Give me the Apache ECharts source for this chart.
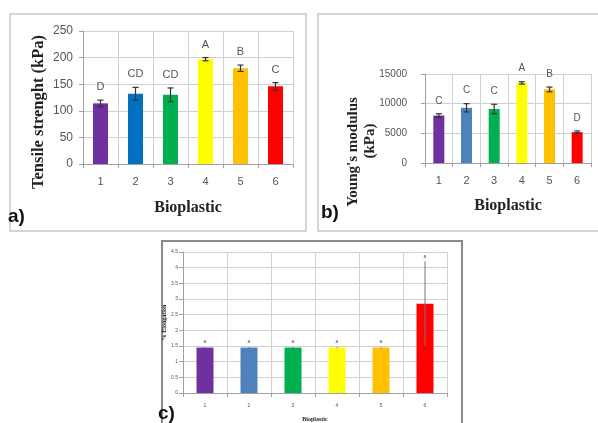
<!DOCTYPE html>
<html><head><meta charset="utf-8">
<script src="https://cdn.jsdelivr.net/npm/echarts@6/dist/echarts.min.js"></script>
<style>html,body{margin:0;padding:0;background:#fff}#c{width:598px;height:423px}</style>
</head><body><div id="c"></div>
<script>
const categories = ['1','2','3','4','5','6'];
const colorsA = ['#7030A0','#0070C0','#00B050','#FFFF00','#FFC000','#FF0000'];
const colorsB = ['#7030A0','#4F81BD','#00B050','#FFFF00','#FFC000','#FF0000'];
const tensile = [114,132,130,197,180,146];
const tensileErr = [6,12,13,3,6,7];
const tensileLetters = ['D','CD','CD','A','B','C'];
const young = [8000,9300,9100,13500,12400,5200];
const youngErr = [300,700,800,200,400,200];
const youngLetters = ['C','C','C','A','B','D'];
const elong = [1.45,1.45,1.45,1.45,1.45,2.85];
const elongErr = [0.02,0.02,0.02,0.02,0.02,1.35];
const elongLetters = ['a','a','a','a','a','a'];

const SERIF = '"Liberation Serif", "DejaVu Serif", serif';
const SANS = '"Liberation Sans", Arial, sans-serif';
const grid = '#d0d0d0';

function errSeries(idx, vals, errs, letters, o){
  return {
    type:'custom', xAxisIndex:idx, yAxisIndex:idx, z:5,
    data: vals.map((v,i)=>[i, v, errs[i]]),
    renderItem: function(params, api){
      const x = api.value(0), v = api.value(1), e = api.value(2);
      const t = api.coord([x, v+e]), b = api.coord([x, v-e]);
      const st = {stroke:o.color, lineWidth:o.lw};
      return {type:'group', children:[
        {type:'line', shape:{x1:t[0],y1:t[1],x2:b[0],y2:b[1]}, style:st},
        {type:'line', shape:{x1:t[0]-o.cap,y1:t[1],x2:t[0]+o.cap,y2:t[1]}, style:st},
        {type:'line', shape:{x1:b[0]-o.cap,y1:b[1],x2:b[0]+o.cap,y2:b[1]}, style:st},
        {type:'text', style:{text:letters[params.dataIndex], x:t[0], y:t[1]-o.gap, align:'center', verticalAlign:'middle', fontSize:o.fs, fontFamily:SANS, fill:'#555'}}
      ]};
    }
  };
}

function barSeries(idx, vals, colors, w){
  return {type:'bar', xAxisIndex:idx, yAxisIndex:idx, barWidth:w,
    data: vals.map((v,i)=>({value:v, itemStyle:{color:colors[i]}}))};
}

function xAx(idx, fs, name, nfs, gap, margin){
  return {type:'category', gridIndex:idx, data:categories,
    axisLine:{show:true, lineStyle:{color:'#a0a0a0'}},
    axisTick:{show:true, length:4, lineStyle:{color:'#a0a0a0'}},
    axisLabel:{fontSize:fs, color:'#555', fontFamily:SANS, margin:margin},
    splitLine:{show:true, lineStyle:{color:grid}},
    name:name, nameLocation:'middle', nameGap:gap,
    nameTextStyle:{fontFamily:SERIF, fontWeight:'bold', fontSize:nfs, color:'#222'}};
}
function yAx(idx, max, interval, fs, name, nfs, gap, margin){
  return {type:'value', gridIndex:idx, min:0, max:max, interval:interval,
    axisLine:{show:true, lineStyle:{color:'#a0a0a0'}},
    axisTick:{show:true, length:4, lineStyle:{color:'#a0a0a0'}},
    axisLabel:{fontSize:fs, color:'#555', fontFamily:SANS, margin:margin, formatter:(v)=>String(v)},
    splitLine:{show:true, lineStyle:{color:grid}},
    name:name, nameLocation:'middle', nameGap:gap, nameRotate:90,
    nameTextStyle:{fontFamily:SERIF, fontWeight:'bold', fontSize:nfs, color:'#222'}};
}

const chart = echarts.init(document.getElementById('c'), null, {renderer:'canvas'});
chart.setOption({
  backgroundColor:'#fff',
  animation:false,
  grid:[
    {left:83, top:31, width:210, height:133},
    {left:425, top:74, width:166, height:89},
    {left:183, top:252, width:264, height:142}
  ],
  xAxis:[
    xAx(0, 11, 'Bioplastic', 16, 36, 12),
    xAx(1, 11, 'Bioplastic', 16, 35, 12),
    xAx(2, 5, 'Bioplastic', 6, 23, 10)
  ],
  yAxis:[
    yAx(0, 250, 50, 12, '', 16, 34, 10),
    yAx(1, 15000, 5000, 10, '', 13, 48, 18),
    yAx(2, 4.5, 0.5, 5, '% Elongation', 6, 13, 5)
  ],
  series:[
    barSeries(0, tensile, colorsA, 15),
    errSeries(0, tensile, tensileErr, tensileLetters, {color:'#333', lw:1.2, cap:3, gap:13, fs:11}),
    barSeries(1, young, colorsB, 11),
    errSeries(1, young, youngErr, youngLetters, {color:'#333', lw:1.2, cap:3, gap:13, fs:10}),
    barSeries(2, elong, colorsB, 17),
    errSeries(2, elong, elongErr, elongLetters, {color:'#777', lw:1, cap:0, gap:5, fs:5})
  ],
  graphic:[
    {type:'rect', shape:{x:10, y:14, width:296, height:217}, style:{fill:null, stroke:'#c8c8c8', lineWidth:1.5}, z:-1},
    {type:'rect', shape:{x:318, y:14, width:290, height:217}, style:{fill:null, stroke:'#c8c8c8', lineWidth:1.5}, z:-1},
    {type:'rect', shape:{x:162, y:241, width:300, height:200}, style:{fill:null, stroke:'#8a8a8a', lineWidth:2}, z:-1},
    {type:'text', x:39, y:112, rotation:Math.PI/2, style:{text:'Tensile strenght (kPa)', align:'center', verticalAlign:'middle', fontSize:16.5, fontWeight:'bold', fontFamily:SERIF, fill:'#222'}},
    {type:'text', x:353, y:152, rotation:Math.PI/2, style:{text:"Young's modulus", align:'center', verticalAlign:'middle', fontSize:15, fontWeight:'bold', fontFamily:SERIF, fill:'#222'}},
    {type:'text', x:370, y:141, rotation:Math.PI/2, style:{text:'(kPa)', align:'center', verticalAlign:'middle', fontSize:15, fontWeight:'bold', fontFamily:SERIF, fill:'#222'}},
    {type:'text', left:8, top:207, style:{text:'a)', fontSize:19, fontWeight:'bold', fontFamily:SANS, fill:'#111'}},
    {type:'text', left:321, top:203, style:{text:'b)', fontSize:19, fontWeight:'bold', fontFamily:SANS, fill:'#111'}},
    {type:'text', left:158, top:404, style:{text:'c)', fontSize:19, fontWeight:'bold', fontFamily:SANS, fill:'#111'}}
  ]
});
</script></body></html>
